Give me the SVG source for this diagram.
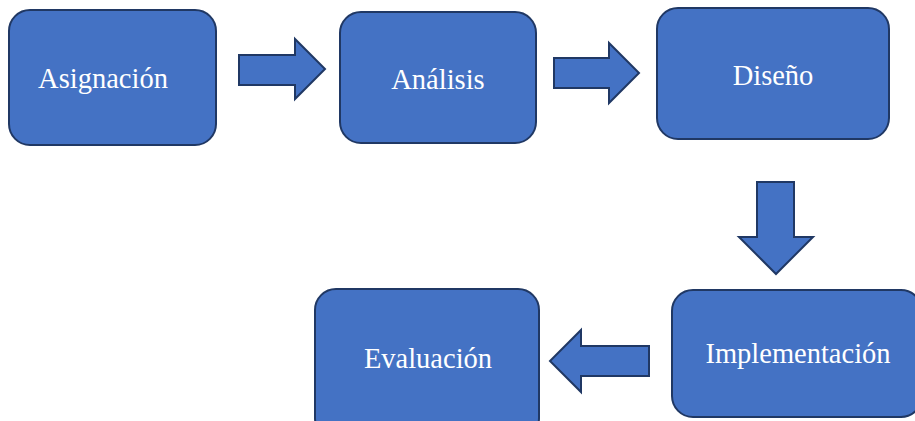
<svg xmlns="http://www.w3.org/2000/svg" width="915" height="421" viewBox="0 0 915 421">
<style>
.box{fill:#4472C4;stroke:#203864;stroke-width:2}
.arr{fill:#4472C4;stroke:#203864;stroke-width:2;stroke-linejoin:miter}
.lbl{font-family:"Liberation Serif","Times New Roman",serif;font-size:28.5px;fill:#FFFFFF;text-anchor:middle}
</style>
<rect width="915" height="421" fill="#FFFFFF"/>
<g id="asignacion">
<rect class="box" x="9" y="10" width="207" height="135" rx="21"/>
<text class="lbl" x="103" y="88">Asignación</text>
</g>
<g id="analisis">
<rect class="box" x="340" y="12" width="196" height="131" rx="21"/>
<text class="lbl" x="438" y="89">Análisis</text>
</g>
<g id="diseno">
<rect class="box" x="657" y="8" width="232" height="131" rx="21"/>
<text class="lbl" x="773" y="85">Diseño</text>
</g>
<g id="implementacion">
<rect class="box" x="672" y="290" width="250" height="127" rx="21"/>
<text class="lbl" x="798" y="363">Implementación</text>
</g>
<g id="evaluacion">
<rect class="box" x="315" y="289" width="224" height="150" rx="21"/>
<text class="lbl" x="428" y="368">Evaluación</text>
</g>
<g id="connectors">
<polygon class="arr" points="239,55 295,55 295,39 325,69 295,99 295,85 239,85"/>
<polygon class="arr" points="554,58 609,58 609,43 639,73 609,103 609,88 554,88"/>
<polygon class="arr" points="757,182 794,182 794,237 813,237 776,274 739,237 757,237"/>
<polygon class="arr" points="649,346 581,346 581,330 550,361 581,392 581,376 649,376"/>
</g>
</svg>
